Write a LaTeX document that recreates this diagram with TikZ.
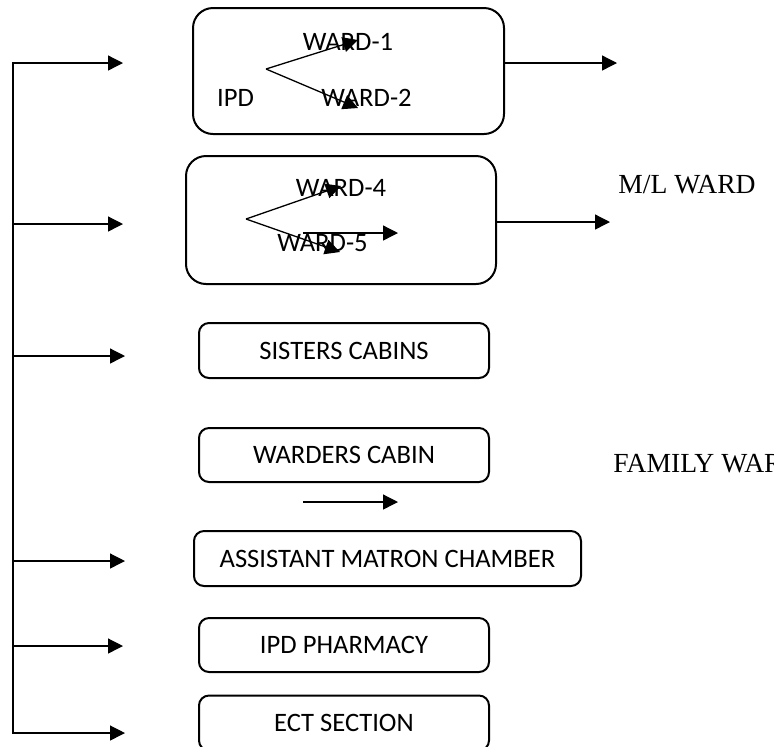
\documentclass[tikz,border=0pt]{standalone}
\usepackage{fontspec}
\setmainfont{Liberation Serif}
\newfontfamily\boxfont{Carlito}
\usetikzlibrary{arrows.meta}

\tikzset{
  unit/.style={draw, line width=1pt, rounded corners=5pt, inner sep=0pt, font=\boxfont\fontsize{13.3}{16}\selectfont},
  big unit/.style={unit, rounded corners=10pt},
  link/.style={line width=0.65pt, -{Triangle[length=7.5pt,width=7.5pt]}},
  ward/.style={inner sep=0pt, anchor=base, font=\boxfont\fontsize{13.3}{16}\selectfont},
  side/.style={inner sep=0pt, anchor=base west, font=\fontsize{13.8}{16}\selectfont}
}

\begin{document}
\begin{tikzpicture}[x=0.5pt, y=-0.5pt]
\useasboundingbox (0,0) rectangle (774,746);

% the boxes, top to bottom
\node[big unit, minimum width=155.5pt, minimum height=63pt] (ipd) at (348.5,71) {};
\node[big unit, minimum width=155pt, minimum height=64pt] (wards) at (341,220) {};
\node[unit, minimum width=145pt, minimum height=27.5pt] (sisters) at (344,350.5) {SISTERS CABINS};
\node[unit, minimum width=145pt, minimum height=27pt] (warders) at (344,455) {WARDERS CABIN};
\node[unit, minimum width=193.5pt, minimum height=27.5pt] (matron) at (387.5,558.5) {ASSISTANT MATRON CHAMBER};
\node[unit, minimum width=145pt, minimum height=27pt] (pharmacy) at (344,645) {IPD PHARMACY};
\node[unit, minimum width=145pt, minimum height=27.5pt] (ect) at (344,723) {ECT SECTION};

% inside the first box
\node[ward] (ward1) at (348,50) {WARD-1};
\node[ward] (ipdname) at (235.5,106) {IPD};
\node[ward] (ward2) at (366.5,106) {WARD-2};
\coordinate (fork1) at (266,69);
\coordinate (tip1) at (358,40);
\coordinate (tip2) at (358,108);
\draw[link] (fork1) -- (tip1);
\draw[link] (fork1) -- (tip2);

% inside the second box
\node[ward] (ward4) at (341,196.5) {WARD-4};
\node[ward] (ward5) at (322.5,251.5) {WARD-5};
\coordinate (fork2) at (246,219);
\coordinate (tip4) at (341,186);
\coordinate (tip5) at (340,252);
\draw[link] (fork2) -- (tip4);
\draw[link] (fork2) -- (tip5);
\coordinate (loose1) at (303,233);
\coordinate (loose2) at (398,233);
\draw[link] (loose1) -- (loose2);

% right side
\coordinate (out1) at (505,63);
\coordinate (end1) at (617,63);
\draw[link] (out1) -- (end1);
\coordinate (out2) at (497,222);
\coordinate (end2) at (610,222);
\draw[link] (out2) -- (end2);
\node[side] (ml) at (618,193) {M/L WARD};
\node[side] (family) at (613,472) {FAMILY WAR};

% stray arrow below the warders cabin
\coordinate (stray1) at (303,502);
\coordinate (stray2) at (398,502);
\draw[link] (stray1) -- (stray2);

% the spine on the left
\coordinate (top) at (13,63);
\coordinate (bottom) at (13,733);
\draw[line width=1pt] (top) -- (bottom);
\foreach \y/\t [count=\i] in {63/123, 224/123, 356/125, 561/125, 646/123, 733/125} {
  \coordinate (from\i) at (12,\y);
  \coordinate (to\i) at (\t,\y);
  \draw[link] (from\i) -- (to\i);
}
\end{tikzpicture}
\end{document}
